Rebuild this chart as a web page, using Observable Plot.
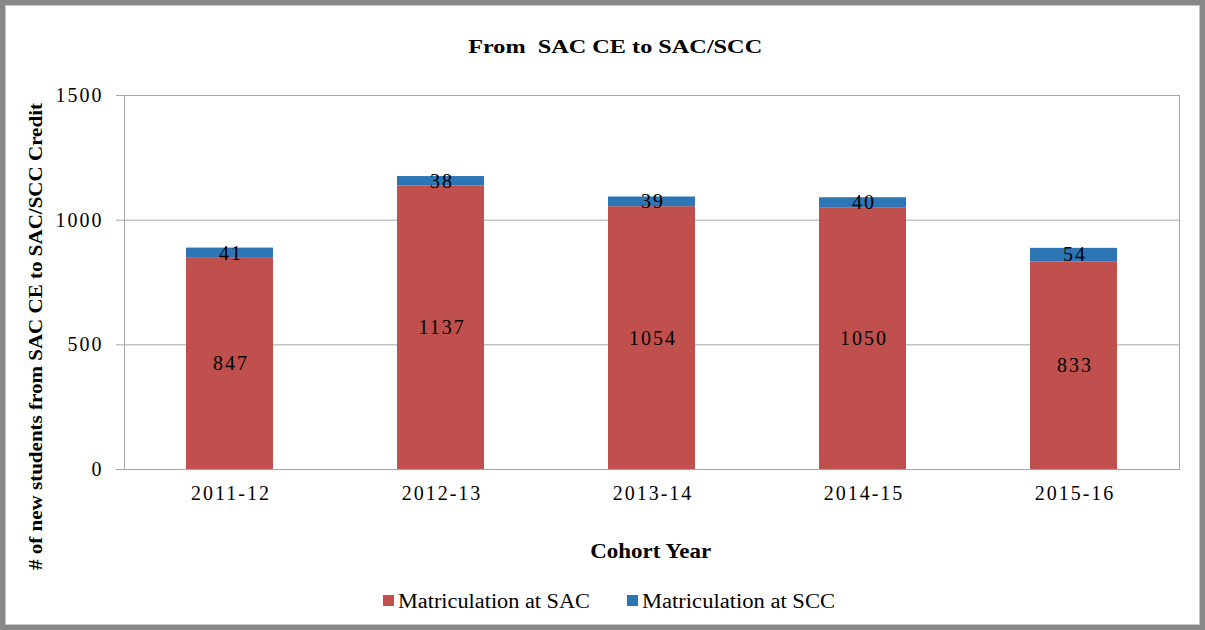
<!DOCTYPE html>
<html>
<head>
<meta charset="utf-8">
<script src="https://cdn.jsdelivr.net/npm/d3@7"></script>
<script src="https://cdn.jsdelivr.net/npm/@observablehq/plot@0.6"></script>
<style>
  html, body { margin: 0; padding: 0; background: #fff; }
  #wrap { position: relative; width: 1205px; height: 630px; overflow: hidden; font-family: "Liberation Serif", "Times New Roman", serif; }
  #border { position: absolute; left: 0; top: 0; width: 1205px; height: 630px; box-sizing: border-box; border: 5px solid #888; pointer-events: none; }
  #border::after { content: ""; position: absolute; inset: 0; border: 1px solid #c8c8c8; }
  .lbl { position: absolute; white-space: nowrap; color: #000; line-height: 1; }
  #title { font-weight: bold; font-size: 19px; }
  #xlabel { font-weight: bold; font-size: 20px; }
  #ylabel { font-weight: bold; font-size: 19px; }
  .legtext { font-size: 20px; }
  .sw { position: absolute; width: 11px; height: 11px; }
  #chart { position: absolute; left: 0; top: 0; }
  #chart svg text { letter-spacing: 2px; }
</style>
</head>
<body>
<div id="wrap">
  <div id="chart"></div>
  <div class="lbl" id="title">From&nbsp; SAC CE to SAC/SCC</div>
  <div class="lbl" id="ylabel"># of new students from SAC CE to SAC/SCC Credit</div>
  <div class="lbl" id="xlabel">Cohort Year</div>
  <div id="border"></div>
</div>
<script>
const years = ["2011-12", "2012-13", "2013-14", "2014-15", "2015-16"];
const sacValues = [847, 1137, 1054, 1050, 833];
const sccValues = [41, 38, 39, 40, 54];
const seriesNames = ["Matriculation at SAC", "Matriculation at SCC"];
const seriesColors = ["#C0504D", "#2E75B6"];
const yTicks = [0, 500, 1000, 1500];

const data = [];
years.forEach((y, i) => {
  data.push({year: y, series: seriesNames[0], value: sacValues[i]});
  data.push({year: y, series: seriesNames[1], value: sccValues[i]});
});

const chart = Plot.plot({
  width: 1205,
  height: 630,
  marginLeft: 124,
  marginRight: 26,
  marginTop: 95,
  marginBottom: 161,
  style: { fontFamily: "'Liberation Serif', 'Times New Roman', serif", background: "transparent" },
  x: { domain: years, paddingInner: 0.59, paddingOuter: 0.295, label: null },
  y: { domain: [0, 1500], label: null },
  color: { domain: seriesNames, range: seriesColors },
  marks: [
    Plot.gridY(yTicks, { stroke: "#a6a6a6", strokeOpacity: 1 }),
    Plot.barY(data, Plot.stackY({ x: "year", y: "value", fill: "series", order: seriesNames })),
    Plot.text(data, Plot.stackY({ x: "year", y: "value", z: "series", order: seriesNames, text: d => String(d.value), fontSize: 20, fill: "#000", dx: 1 })),
    Plot.frame({ stroke: "#a6a6a6" }),
    Plot.axisY({ ticks: yTicks, tickFormat: d3.format("d"), tickSize: 8, tickPadding: 13, fontSize: 20, stroke: "#a6a6a6", color: "#000", label: null }),
    Plot.axisX({ tickSize: 0, tickPadding: 16, fontSize: 20, color: "#000", label: null, dx: 1 })
  ]
});
document.getElementById("chart").appendChild(chart);

// place & horizontally stretch HTML labels to match the reference layout
function place(el, cx, cy, targetW, rotate) {
  const w = el.getBoundingClientRect().width;
  const h = el.getBoundingClientRect().height;
  const s = targetW / w;
  el.style.left = (cx - w / 2) + "px";
  el.style.top = (cy - h / 2) + "px";
  el.style.transformOrigin = "50% 50%";
  el.style.transform = (rotate ? "rotate(-90deg) " : "") + "scaleX(" + s + ")";
}
place(document.getElementById("title"), 615, 46, 294, false);
place(document.getElementById("xlabel"), 651, 551, 121, false);
place(document.getElementById("ylabel"), 35, 336, 467, true);

// legend
const wrap = document.getElementById("wrap");
const legendItems = [
  { swatchX: 383, textX: 398, width: 192 },
  { swatchX: 627, textX: 642, width: 193 }
];
seriesNames.forEach((name, i) => {
  const sw = document.createElement("div");
  sw.className = "sw";
  sw.style.background = seriesColors[i];
  sw.style.left = legendItems[i].swatchX + "px";
  sw.style.top = "595px";
  wrap.appendChild(sw);
  const t = document.createElement("div");
  t.className = "lbl legtext";
  t.textContent = name;
  wrap.appendChild(t);
  const w = t.getBoundingClientRect().width;
  const h = t.getBoundingClientRect().height;
  t.style.left = legendItems[i].textX + "px";
  t.style.top = (601 - h / 2) + "px";
  t.style.transformOrigin = "0 50%";
  t.style.transform = "scaleX(" + (legendItems[i].width / w) + ")";
});
</script>
</body>
</html>
